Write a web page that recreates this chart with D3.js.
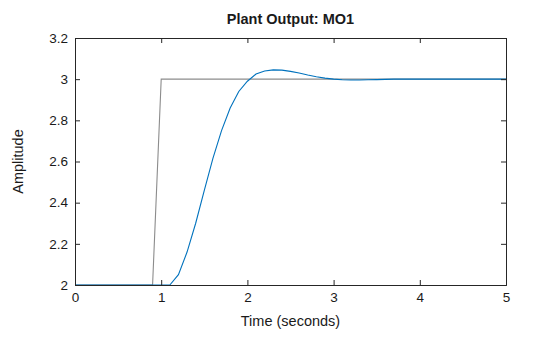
<!DOCTYPE html>
<html><head><meta charset="utf-8">
<script src="https://cdn.jsdelivr.net/npm/d3@7"></script>
<style>body{margin:0;background:#fff}svg{display:block}text{font-family:"Liberation Sans",Arial,Helvetica,sans-serif}</style>
</head><body><div id="chart"></div>
<script>
const title = "Plant Output: MO1";
const xLabel = "Time (seconds)";
const yLabel = "Amplitude";
const xTicks = [0, 1, 2, 3, 4, 5];
const yTicks = [2, 2.2, 2.4, 2.6, 2.8, 3, 3.2];
const refT = [0, 0.9, 1.0, 5.0];
const refY = [2, 2, 3, 3];
const outT = [0,0.1,0.2,0.3,0.4,0.5,0.6,0.7,0.8,0.9,1.0,1.1,1.2,1.3,1.4,1.5,1.6,1.7,1.8,1.9,2.0,2.1,2.2,2.3,2.4,2.5,2.6,2.7,2.8,2.9,3.0,3.1,3.2,3.3,3.4,3.5,3.6,3.7,3.8,3.9,4.0,4.1,4.2,4.3,4.4,4.5,4.6,4.7,4.8,4.9,5.0];
const outY = [2,2,2,2,2,2,2,2,2,2,2,2,2.05,2.16,2.30,2.46,2.615,2.75,2.86,2.94,2.99,3.025,3.04,3.045,3.044,3.038,3.03,3.02,3.012,3.005,3.0,2.997,2.996,2.996,2.997,2.998,2.999,3.0,3.0,3.0,3.0,3.0,3.0,3.0,3.0,3.0,3.0,3.0,3.0,3.0,3.0];

const W = 560, H = 337;
const m = {left: 75, right: 54, top: 38, bottom: 52};
const svg = d3.select("#chart").append("svg").attr("width", W).attr("height", H);
const x = d3.scaleLinear().domain([0, 5]).range([m.left, W - m.right]);
const y = d3.scaleLinear().domain([2, 3.2]).range([H - m.bottom, m.top]);

const line = d3.line().x(d => x(d[0])).y(d => y(d[1]));
svg.append("path").datum(refT.map((t, i) => [t, refY[i]]))
  .attr("d", line).attr("fill", "none").attr("stroke", "#8c8c8c").attr("stroke-width", 1.1);
svg.append("path").datum(outT.map((t, i) => [t, outY[i]]))
  .attr("d", line).attr("fill", "none").attr("stroke", "#0072BD").attr("stroke-width", 1.1);

const axCol = "#262626";
const fmt = d => d3.format("")(+d.toFixed(1));
const gx = svg.append("g").attr("transform", `translate(0,${H - m.bottom})`)
  .call(d3.axisBottom(x).tickValues(xTicks).tickSize(-5).tickPadding(7).tickFormat(fmt));
const gxt = svg.append("g").attr("transform", `translate(0,${m.top})`)
  .call(d3.axisTop(x).tickValues(xTicks).tickSize(-5).tickFormat(""));
const gy = svg.append("g").attr("transform", `translate(${m.left},0)`)
  .call(d3.axisLeft(y).tickValues(yTicks).tickSize(-5).tickPadding(7).tickFormat(fmt));
const gyr = svg.append("g").attr("transform", `translate(${W - m.right},0)`)
  .call(d3.axisRight(y).tickValues(yTicks).tickSize(-5).tickFormat(""));
[gx, gxt, gy, gyr].forEach(g => {
  g.selectAll("path.domain").attr("stroke", axCol).attr("stroke-width", 1);
  g.selectAll("line").attr("stroke", axCol);
  g.selectAll("text").attr("fill", "#1a1a1a").style("font-size", "13.5px")
   .style("font-family", '"Liberation Sans", Arial, sans-serif');
});

svg.append("text").attr("x", (x(0) + x(5)) / 2).attr("y", 24).attr("text-anchor", "middle")
  .style("font-size", "14.5px").style("font-weight", "bold").attr("fill", "#1a1a1a").text(title);
svg.append("text").attr("x", (x(0) + x(5)) / 2).attr("y", 326).attr("text-anchor", "middle")
  .style("font-size", "14.5px").attr("fill", "#1a1a1a").text(xLabel);
svg.append("text").attr("transform", `translate(23,${(y(2) + y(3.2)) / 2}) rotate(-90)`)
  .attr("text-anchor", "middle").style("font-size", "14.5px").attr("fill", "#1a1a1a").text(yLabel);
</script></body></html>
